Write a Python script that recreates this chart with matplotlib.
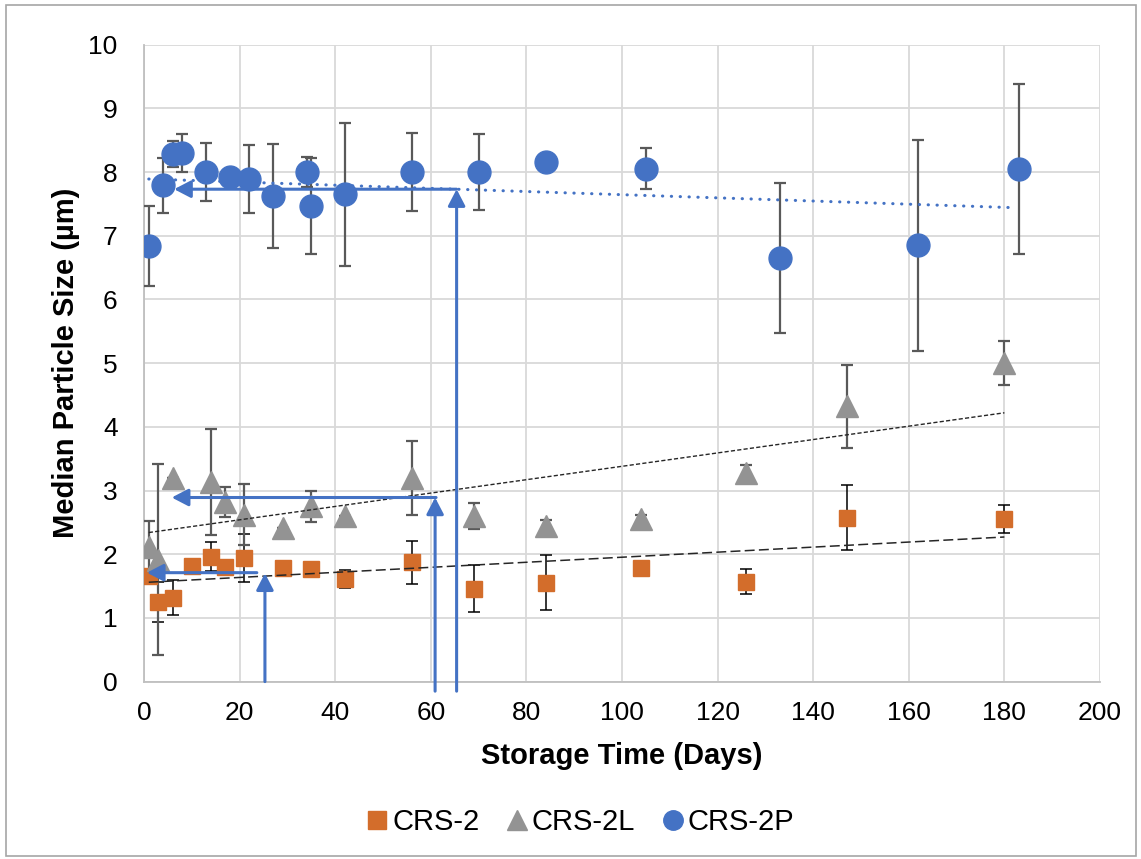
import matplotlib
matplotlib.use("Agg")
import matplotlib.pyplot as plt
from matplotlib.patches import Rectangle
from matplotlib.lines import Line2D

plt.rcParams['font.family'] = ['Liberation Sans', 'DejaVu Sans']

# CRS-2 (orange squares)
crs2_days = [1, 3, 6, 10, 14, 17, 21, 29, 35, 42, 56, 69, 84, 104, 126, 147, 180]
crs2_size = [1.65, 1.25, 1.32, 1.82, 1.96, 1.80, 1.94, 1.78, 1.76, 1.61, 1.87, 1.46, 1.55, 1.79, 1.57, 2.57, 2.56]
crs2_err = [0.0, 0.32, 0.27, 0.0, 0.23, 0.0, 0.38, 0.0, 0.0, 0.14, 0.34, 0.37, 0.43, 0.0, 0.19, 0.51, 0.22]

# CRS-2L (grey triangles)
crs2l_days = [1, 3, 6, 14, 17, 21, 29, 35, 42, 56, 69, 84, 104, 126, 147, 180]
crs2l_size = [2.12, 1.91, 3.20, 3.13, 2.82, 2.62, 2.41, 2.75, 2.60, 3.20, 2.60, 2.44, 2.55, 3.27, 4.32, 5.00]
crs2l_err = [0.40, 1.50, 0.0, 0.83, 0.23, 0.48, 0.0, 0.25, 0.0, 0.58, 0.20, 0.10, 0.07, 0.13, 0.65, 0.34]

# CRS-2P (blue circles)
crs2p_days = [1, 4, 6, 8, 13, 18, 22, 27, 34, 35, 42, 56, 70, 84, 105, 133, 162, 183]
crs2p_size = [6.84, 7.79, 8.28, 8.30, 8.00, 7.92, 7.89, 7.62, 8.00, 7.47, 7.65, 8.00, 8.00, 8.15, 8.05, 6.65, 6.85, 8.05]
crs2p_err = [0.63, 0.43, 0.20, 0.30, 0.45, 0.0, 0.53, 0.82, 0.23, 0.75, 1.12, 0.61, 0.60, 0.0, 0.32, 1.18, 1.66, 1.33]

# linear trendlines (end points)
crs2_trend_x = [1, 180]
crs2_trend_y = [1.56, 2.27]
crs2l_trend_x = [1, 180]
crs2l_trend_y = [2.34, 4.22]
crs2p_trend_x = [1, 182]
crs2p_trend_y = [7.89, 7.44]

# annotation arrows: vertical (x, bottom, top) then horizontal (start x, tip x, y)
vert_x = [25.3, 60.9, 65.4]
vert_bottom = [0.0, -0.15, -0.15]
vert_top = [1.70, 2.89, 7.73]
horiz_start = [23.6, 61.1, 65.4]
horiz_tip = [0.6, 5.8, 6.3]
horiz_y = [1.71, 2.89, 7.73]

orange = '#D36D2B'
grey = '#939393'
blue = '#4472C4'

fig = plt.figure(figsize=(11.41, 8.59), dpi=100)
ax = fig.add_axes([144/1141, 1-681.6/859, 956/1141, 637/859])

ax.errorbar(crs2_days, crs2_size, yerr=crs2_err, fmt='s', color=orange, ms=12,
            mec=orange, ecolor='black', elinewidth=1.1, capsize=4, capthick=1.1, zorder=3)
ax.errorbar(crs2l_days, crs2l_size, yerr=crs2l_err, fmt='^', color=grey, ms=16,
            mec=grey, ecolor='#595959', elinewidth=1.6, capsize=4, capthick=1.6, zorder=3)
ax.errorbar(crs2p_days, crs2p_size, yerr=crs2p_err, fmt='o', color=blue, ms=16.5,
            mec=blue, ecolor='#595959', elinewidth=1.6, capsize=4, capthick=1.6, zorder=4)

ax.plot(crs2_trend_x, crs2_trend_y, color='#262626', lw=1.1, dashes=(6.5, 2.8), zorder=5)
ax.plot(crs2l_trend_x, crs2l_trend_y, color='#262626', lw=1.0, dashes=(3, 1.6), zorder=5)
ax.plot(crs2p_trend_x, crs2p_trend_y, color=blue, lw=2.2, linestyle=(0, (0.1, 2.8)),
        dash_capstyle='round', zorder=5)

arrow_style = dict(arrowstyle='-|>,head_length=0.5,head_width=0.26', color=blue, lw=2.2,
                   shrinkA=0, shrinkB=0, mutation_scale=20)
for i in range(len(vert_x)):
    ax.annotate('', xy=(vert_x[i], vert_top[i]), xytext=(vert_x[i], vert_bottom[i]),
                arrowprops=arrow_style, annotation_clip=False, zorder=6)
    ax.annotate('', xy=(horiz_tip[i], horiz_y[i]), xytext=(horiz_start[i], horiz_y[i]),
                arrowprops=arrow_style, annotation_clip=False, zorder=6)

ax.set_xlim(0, 200)
ax.set_ylim(0, 10)
ax.set_xticks(range(0, 201, 20))
ax.set_yticks(range(0, 11))
ax.grid(True, color='#D9D9D9', lw=1.3, zorder=0)
ax.set_axisbelow(True)
for s in ['top', 'right']:
    ax.spines[s].set_visible(False)
for s in ['left', 'bottom']:
    ax.spines[s].set_color('#BFBFBF')
    ax.spines[s].set_linewidth(1.3)
ax.tick_params(length=0, labelsize=19, colors='black')
ax.tick_params(axis='x', pad=14)
ax.tick_params(axis='y', pad=19)

ax.set_xlabel('Storage Time (Days)', fontsize=21, fontweight='bold', labelpad=12)
ax.set_ylabel('Median Particle Size (µm)', fontsize=21, fontweight='bold', labelpad=6)

handles = [
    Line2D([], [], marker='s', ls='none', color=orange, ms=12.5),
    Line2D([], [], marker='^', ls='none', color=grey, ms=14),
    Line2D([], [], marker='o', ls='none', color=blue, ms=14),
]
fig.legend(handles, ['CRS-2', 'CRS-2L', 'CRS-2P'], loc='center', ncol=3,
           bbox_to_anchor=(580/1141, 1-822/859), frameon=False, fontsize=21,
           handletextpad=0.1, columnspacing=0.9, handlelength=0.8)

fig.patches.append(Rectangle((6/1141, 3/859), 1130/1141, 851/859, transform=fig.transFigure,
                             fill=False, edgecolor='#A6A6A6', lw=1.2))

plt.savefig('out.png', dpi=100)
